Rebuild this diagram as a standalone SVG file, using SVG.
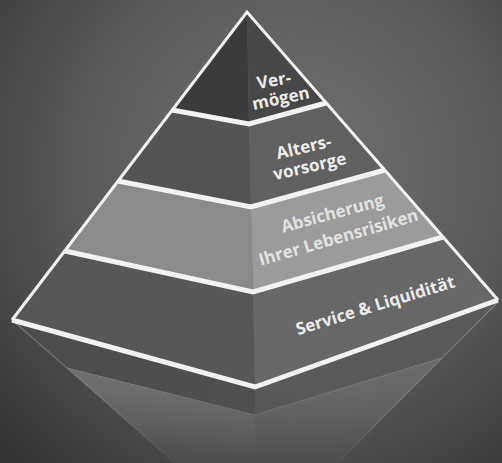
<svg xmlns="http://www.w3.org/2000/svg" width="502" height="463" viewBox="0 0 502 463">
  <defs>
    <radialGradient id="bg" gradientUnits="userSpaceOnUse" cx="290" cy="170" r="390">
      <stop offset="0" stop-color="#727272"/>
      <stop offset="0.55" stop-color="#5a5a5a"/>
      <stop offset="1" stop-color="#353535"/>
    </radialGradient>
    <linearGradient id="fade" gradientUnits="userSpaceOnUse" x1="0" y1="300" x2="0" y2="463">
      <stop offset="0" stop-color="#fff" stop-opacity="1"/>
      <stop offset="0.55" stop-color="#fff" stop-opacity="0.75"/>
      <stop offset="1" stop-color="#fff" stop-opacity="0.1"/>
    </linearGradient>
    <mask id="refmask" maskUnits="userSpaceOnUse" x="0" y="290" width="502" height="173">
      <rect x="0" y="290" width="502" height="173" fill="url(#fade)"/>
    </mask>
  </defs>
  <style>
    .lbl { font-family: "Open Sans", "Noto Sans", "DejaVu Sans", sans-serif; font-weight: 700; font-size: 17px; fill: #ececec; text-anchor: middle; }
    .sep { fill: none; stroke: #f2f2f2; stroke-width: 5; stroke-linejoin: miter; }
    .edge { fill: none; stroke: #f4f4f4; stroke-width: 3; stroke-linejoin: miter; }
    .redge { fill: none; stroke: #9a9a9a; stroke-width: 1.2; stroke-opacity: 0.6; }
  </style>

  <rect width="502" height="463" fill="url(#bg)"/>

  <!-- reflection -->
  <g id="reflection" mask="url(#refmask)">
    <polygon points="12,320 255,387 255,415 67,368" fill="#4d4d4d"/>
    <polygon points="255,387 498,302 442,358 255,415" fill="#5a5a5a"/>
    <polygon points="67,368 255,415 255,463 173,463" fill="#777777"/>
    <polygon points="255,415 442,358 340,463 255,463" fill="#6d6d6d"/>
    <line x1="12" y1="320" x2="176" y2="463" class="redge"/>
    <line x1="498" y1="302" x2="337" y2="463" class="redge"/>
    <line x1="67" y1="368" x2="255" y2="415" class="redge"/>
    <line x1="255" y1="415" x2="442" y2="358" class="redge"/>
  </g>

  <!-- pyramid bands -->
  <g id="service">
    <polygon points="65,251 253,292 255,387 12,320" fill="#575757"/>
    <polygon points="253,292 443,237 498,300 255,387" fill="#676767"/>
    <text class="lbl" transform="translate(377,311) rotate(-17)">Service &amp; Liquidität</text>
  </g>

  <g id="absicherung">
    <polygon points="118,181 251,207 253,292 65,251" fill="#8b8b8b"/>
    <polygon points="251,207 385,170 443,237 253,292" fill="#9b9b9b"/>
    <text class="lbl" fill="#dedede" style="fill:#e2e2e2" transform="translate(334,219) rotate(-15)">Absicherung</text>
    <text class="lbl" style="fill:#e2e2e2" transform="translate(340,243) rotate(-16)">Ihrer Lebensrisiken</text>
  </g>

  <g id="altersvorsorge">
    <polygon points="172,110 249,124 251,207 118,181" fill="#545454"/>
    <polygon points="249,124 326,103 385,170 251,207" fill="#606060"/>
    <text class="lbl" transform="translate(305,153) rotate(-13)">Alters-</text>
    <text class="lbl" transform="translate(311,172) rotate(-13)">vorsorge</text>
  </g>

  <g id="vermoegen">
    <polygon points="247,12 249,124 172,110" fill="#3b3b3b"/>
    <polygon points="247,12 326,103 249,124" fill="#474747"/>
    <text class="lbl" transform="translate(275,86) rotate(-10)">Ver-</text>
    <text class="lbl" transform="translate(282,104) rotate(-12)">mögen</text>
  </g>

  <!-- white outlines -->
  <g id="outlines">
    <polyline class="sep" points="172,110 249,124 326,103"/>
    <polyline class="sep" points="118,181 251,207 385,170"/>
    <polyline class="sep" points="65,251 253,292 443,237"/>
    <polyline class="sep" points="12,320 255,387 498,300"/>
    <polyline class="edge" points="12,320 247,12 498,300"/>
  </g>
</svg>
